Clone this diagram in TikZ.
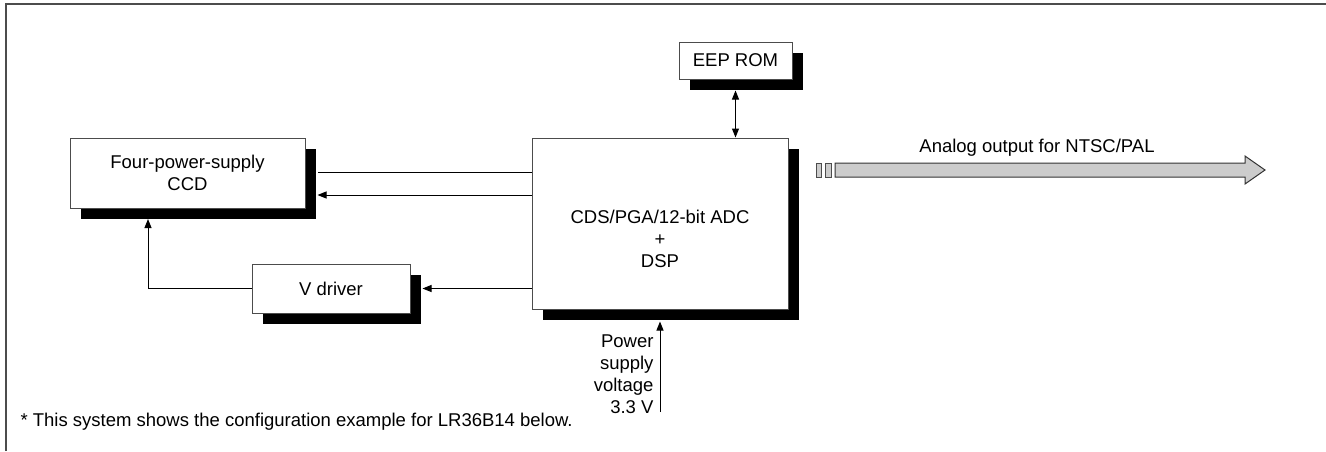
\documentclass[tikz,border=0pt]{standalone}
\usepackage{fontspec}
\setmainfont{Liberation Sans}
\usetikzlibrary{shadows,arrows.meta}

\begin{document}
\begin{tikzpicture}[x=1pt,y=-1pt,line width=1pt,>={Triangle[length=9pt,width=7pt]}]
  \tikzstyle{block}=[draw=black!70,fill=white,inner sep=0pt,align=center,
    drop shadow={shadow xshift=11pt,shadow yshift=-11pt,fill=black,opacity=1}]
  \tikzstyle{txt}=[inner sep=0pt,align=center,font=\fontsize{18.5}{22}\selectfont]
  \useasboundingbox (0,0) rectangle (1326,451);
  \draw[black!70,line width=1.5pt] (6,451) -- (6,4) -- (1326,4);
  % blocks
  \node[block,txt,minimum width=235pt,minimum height=70pt] (CCD) at (187.5,173) {Four-power-supply\\CCD};
  \node[block,txt,minimum width=158pt,minimum height=49pt] (VD) at (331,288.5) {V driver};
  \node[block,minimum width=256pt,minimum height=171pt] (DSP) at (660,223.5) {};
  \node[txt] (DSPtxt) at (660,239) {CDS/PGA/12-bit ADC\\+\\DSP};
  \node[block,txt,minimum width=113pt,minimum height=37pt] (EEP) at (735.5,60.5) {EEP ROM};
  % connections
  \draw (DSP.west |- 0,172) -- ([xshift=12pt]CCD.east |- 0,172);
  \draw[->] (DSP.west |- 0,195) -- ([xshift=12pt]CCD.east |- 0,195);
  \draw[->] (DSP.west |- VD.east) -- ([xshift=12pt]VD.east);
  \coordinate (ccdin) at (148,219);
  \draw[->] (VD.west) -| (ccdin);
  \draw[<->] ([yshift=-11pt]EEP.south) -- (DSP.north -| EEP.south);
  \coordinate (pwr) at (660,412);
  \draw[->] (pwr) -- ([yshift=-12pt]DSP.south);
  \node[txt,align=right,anchor=east] (pwrtxt) at (654,374) {Power\\supply\\voltage\\3.3 V};
  % analog output
  \draw[black!70,fill=black!20] (816,163) rectangle (821,177);
  \draw[black!70,fill=black!20] (825,163) rectangle (831,177);
  \draw[black!80,fill=black!20] (835,163) -- (1245,163) -- (1245,156) -- (1265,170)
    -- (1245,184) -- (1245,177) -- (835,177) -- cycle;
  \node[txt] (outtxt) at (1037,148) {Analog output for NTSC/PAL};
  \node[txt,anchor=west] (note) at (20,422) {* This system shows the configuration example for LR36B14 below.};
\end{tikzpicture}
\end{document}
